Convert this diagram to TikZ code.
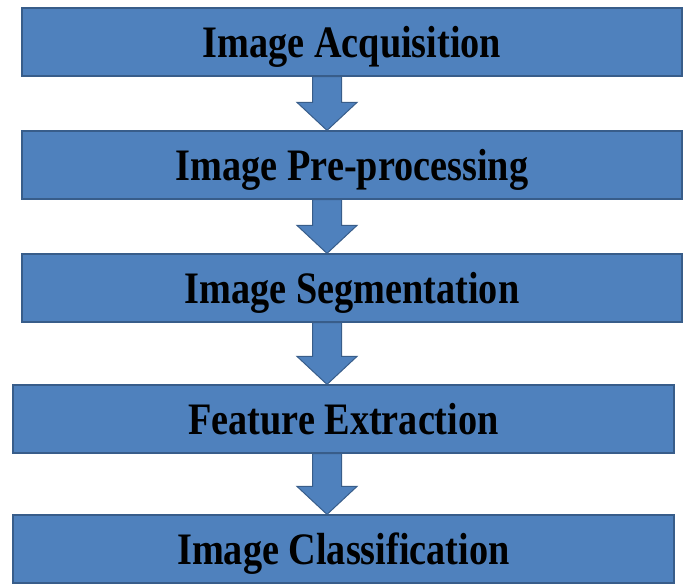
\documentclass[tikz,border=0pt]{standalone}
\usepackage{fontspec}
\setmainfont{Liberation Serif}
\newfontfamily\stagefont[FakeStretch=0.85]{Liberation Serif}
\usetikzlibrary{calc}

\definecolor{stageblue}{RGB}{79,129,189}
\definecolor{stageline}{RGB}{56,93,138}

\tikzset{
  stage/.style={draw=stageline, fill=stageblue, line width=1.2pt,
    minimum height=68pt, inner sep=0pt,
    font=\stagefont\fontsize{45}{47}\selectfont\bfseries,
    text height=30pt, text depth=0pt},
  blockarrow/.style={draw=stageline, fill=stageblue, line width=1pt, line join=miter}
}

\begin{document}
\begin{tikzpicture}[x=1pt,y=1pt]

  \def\shaft{14.5}
  \def\head{30}
  \def\headlen{28}

  \useasboundingbox (0,0) rectangle (684,-584);

  \coordinate (spine) at (327,0);

  \node[stage, minimum width=660pt] (acq)  at (352,-42)    {Image Acquisition};
  \node[stage, minimum width=660pt] (pre)  at (352,-165)   {Image Pre-processing};
  \node[stage, minimum width=660pt] (seg)  at (352,-288)   {Image Segmentation};
  \node[stage, minimum width=661pt] (feat) at (343.5,-419) {Feature Extraction};
  \node[stage, minimum width=661pt] (cls)  at (343.5,-549) {Image Classification};

  % block arrows between the stages
  \foreach \a/\b in {acq/pre, pre/seg, seg/feat, feat/cls} {
    \coordinate (top) at (\a.south -| spine);
    \coordinate (tip) at (\b.north -| spine);
    \filldraw[blockarrow] ($(top)+(-\shaft,0)$) -- ($(tip)+(-\shaft,\headlen)$)
      -- ($(tip)+(-\head,\headlen)$) -- (tip) -- ($(tip)+(\head,\headlen)$)
      -- ($(tip)+(\shaft,\headlen)$) -- ($(top)+(\shaft,0)$) -- cycle;
  }

\end{tikzpicture}
\end{document}
